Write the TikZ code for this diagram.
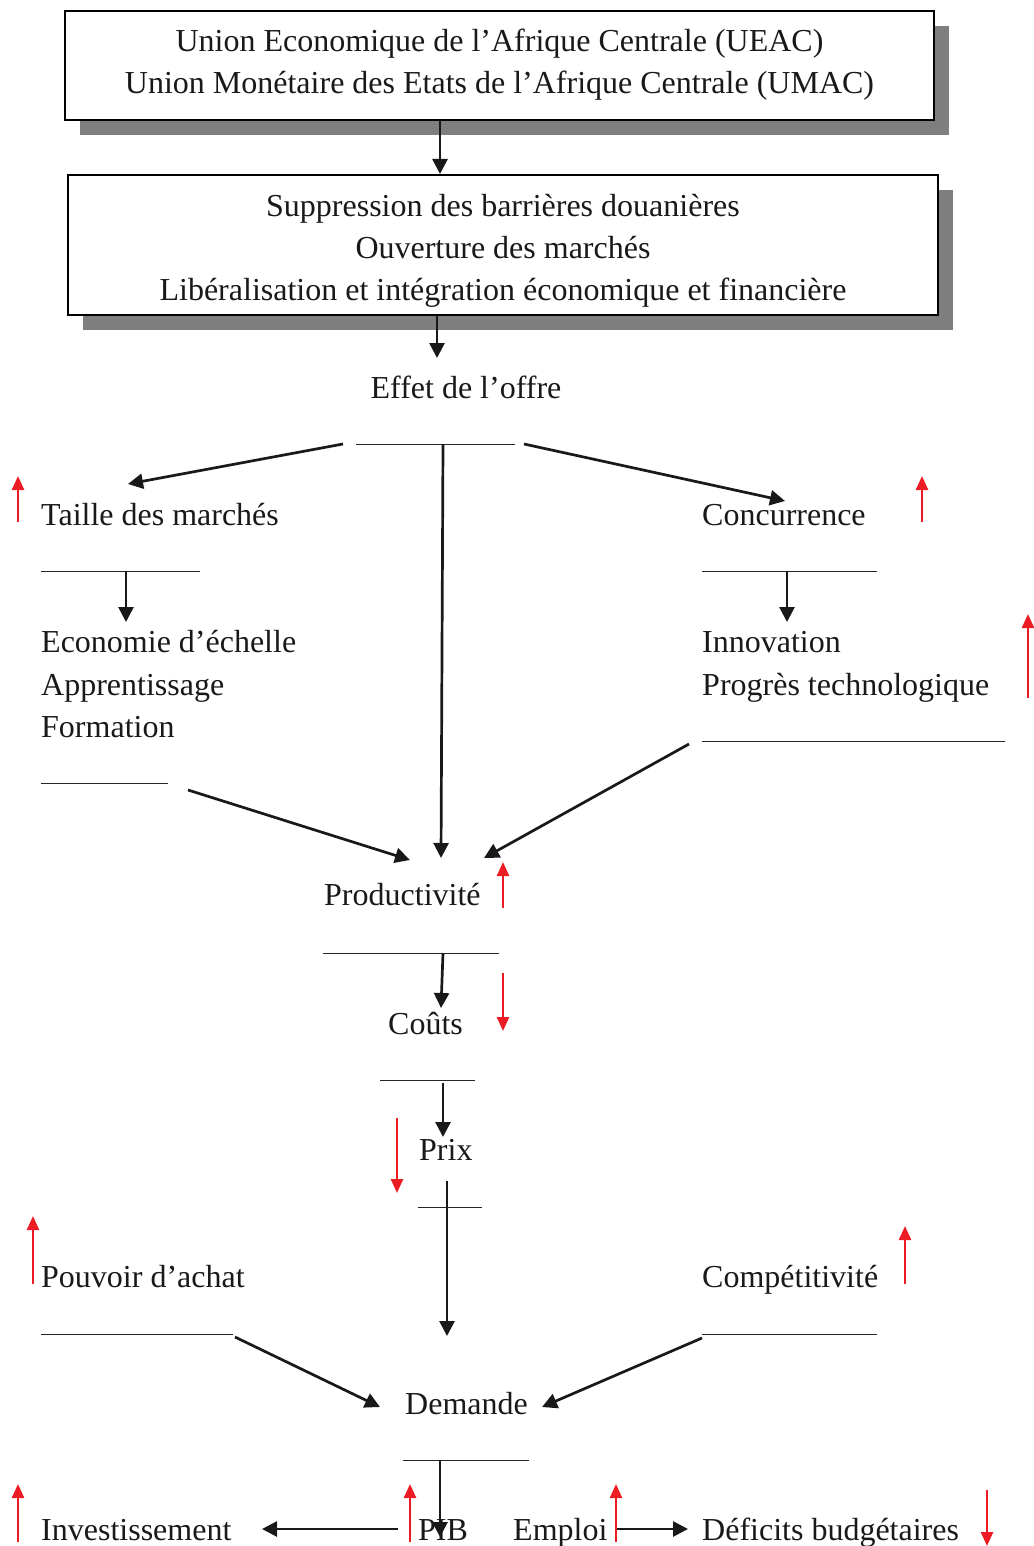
\documentclass[tikz,border=0pt]{standalone}
\usepackage{fontspec}
\setmainfont{Liberation Serif}
\usetikzlibrary{arrows.meta,shadows}
\definecolor{arrred}{HTML}{ED1C24}
\definecolor{shadowgray}{HTML}{7F7F7F}
\begin{document}
\begin{tikzpicture}[x=1pt,y=-1pt,
  font=\fontsize{32}{42}\selectfont,
  box/.style={draw=black, line width=2pt, fill=white, inner sep=0pt,
    general shadow={fill=shadowgray, shadow xshift=15pt, shadow yshift=-15pt}},
  boxtext/.style={align=center, inner sep=0pt, text=black!90},
  lbl/.style={anchor=base west, inner sep=0pt, text=black!90},
  clbl/.style={anchor=base, inner sep=0pt, text=black!90},
  conn/.style={draw=black!90, line width=2.7pt, -{Triangle[length=15pt,width=15pt]}},
  rulel/.style={draw=black!85, line width=1pt},
  redarr/.style={draw=arrred, line width=2.4pt, -{Triangle[length=14pt,width=12pt]}},
]
\useasboundingbox (0,0) rectangle (1033,1546);

% boxes
\node[box, minimum width=869pt, minimum height=109pt] (b1) at (499.5,65.5) {};
\node[boxtext] (b1t) at (499.5,65) {Union Economique de l’Afrique Centrale (UEAC)\\Union Monétaire des Etats de l’Afrique Centrale (UMAC)};
\node[box, minimum width=870pt, minimum height=140pt] (b2) at (503,245) {};
\node[boxtext] (b2t) at (503,251) {Suppression des barrières douanières\\Ouverture des marchés\\Libéralisation et intégration économique et financière};

% labels
\node[clbl] (effet) at (466,398) {Effet de l’offre};
\node[lbl] (taille) at (41,525) {Taille des marchés};
\node[lbl] (eco) at (41,652) {Economie d’échelle};
\node[lbl] (appr) at (41,695) {Apprentissage};
\node[lbl] (form) at (41,737) {Formation};
\node[lbl] (conc) at (702,525) {Concurrence};
\node[lbl] (innov) at (702,652) {Innovation};
\node[lbl] (prog) at (702,695) {Progrès technologique};
\node[lbl] (prod) at (324,905) {Productivité};
\node[lbl] (couts) at (388,1034) {Coûts};
\node[lbl] (prix) at (419,1160) {Prix};
\node[lbl] (pouv) at (41,1287) {Pouvoir d’achat};
\node[lbl] (comp) at (702,1287) {Compétitivité};
\node[lbl] (dem) at (405,1414) {Demande};
\node[lbl] (inv) at (41,1540) {Investissement};
\node[lbl] (pib) at (418,1540) {PIB};
\node[lbl] (emp) at (513,1540) {Emploi};
\node[lbl] (def) at (702,1540) {Déficits budgétaires};

% underline rules
\draw[rulel] (356,444) -- (515,444);
\draw[rulel] (41,571) -- (200,571);
\draw[rulel] (41,783) -- (168,783);
\draw[rulel] (702,571) -- (877,571);
\draw[rulel] (702,741) -- (1005,741);
\draw[rulel] (323,953) -- (499,953);
\draw[rulel] (380,1080) -- (475,1080);
\draw[rulel] (418,1207) -- (482,1207);
\draw[rulel] (41,1334) -- (233,1334);
\draw[rulel] (702,1334) -- (877,1334);
\draw[rulel] (403,1460) -- (529,1460);

% connector coordinates
\coordinate (xa) at (440,0);
\coordinate (xb) at (437,0);
\coordinate (effIn) at (437,358);
\coordinate (eS) at (443,444);
\coordinate (eL) at (343,444);
\coordinate (eR) at (524,444);
\coordinate (tIn) at (128,484);
\coordinate (cIn) at (785,501);
\coordinate (tOut) at (126,571);
\coordinate (ecoIn) at (126,622);
\coordinate (cOut) at (787,571);
\coordinate (innIn) at (787,622);
\coordinate (formOut) at (188,790);
\coordinate (progOut) at (689,744);
\coordinate (pIn1) at (410,860);
\coordinate (pIn2) at (441,858);
\coordinate (pIn3) at (484,858);
\coordinate (pOut) at (443,953);
\coordinate (coIn) at (441,1008);
\coordinate (coOut) at (443,1083);
\coordinate (prIn) at (443,1137);
\coordinate (prOut) at (447,1181);
\coordinate (dIn0) at (447,1336);
\coordinate (pvOut) at (235,1337);
\coordinate (dIn1) at (380,1407);
\coordinate (cpOut) at (702,1338);
\coordinate (dIn2) at (542,1407);
\coordinate (dOut) at (440,1460);
\coordinate (pibIn) at (440,1537);
\coordinate (pibL) at (398,1529);
\coordinate (invIn) at (262,1529);
\coordinate (empR) at (616,1529);
\coordinate (defIn) at (688,1529);

% connectors
\draw[conn] (b1.south -| xa) -- (b2.north -| xa);
\draw[conn] (b2.south -| xb) -- (effIn);
\draw[conn] (eS) -- (pIn2);
\draw[conn] (eL) -- (tIn);
\draw[conn] (eR) -- (cIn);
\draw[conn] (tOut) -- (ecoIn);
\draw[conn] (cOut) -- (innIn);
\draw[conn] (formOut) -- (pIn1);
\draw[conn] (progOut) -- (pIn3);
\draw[conn] (pOut) -- (coIn);
\draw[conn] (coOut) -- (prIn);
\draw[conn] (prOut) -- (dIn0);
\draw[conn] (pvOut) -- (dIn1);
\draw[conn] (cpOut) -- (dIn2);
\draw[conn] (dOut) -- (pibIn);
\draw[conn] (pibL) -- (invIn);
\draw[conn] (empR) -- (defIn);

% red indicator arrows
\draw[redarr] (18,522) -- (18,476);
\draw[redarr] (922,522) -- (922,476);
\draw[redarr] (1028,698) -- (1028,614);
\draw[redarr] (503,908) -- (503,862);
\draw[redarr] (503,973) -- (503,1031);
\draw[redarr] (397,1118) -- (397,1193);
\draw[redarr] (33,1284) -- (33,1216);
\draw[redarr] (905,1284) -- (905,1226);
\draw[redarr] (18,1542) -- (18,1484);
\draw[redarr] (410,1542) -- (410,1484);
\draw[redarr] (616,1542) -- (616,1484);
\draw[redarr] (987,1490) -- (987,1546);
\end{tikzpicture}
\end{document}
